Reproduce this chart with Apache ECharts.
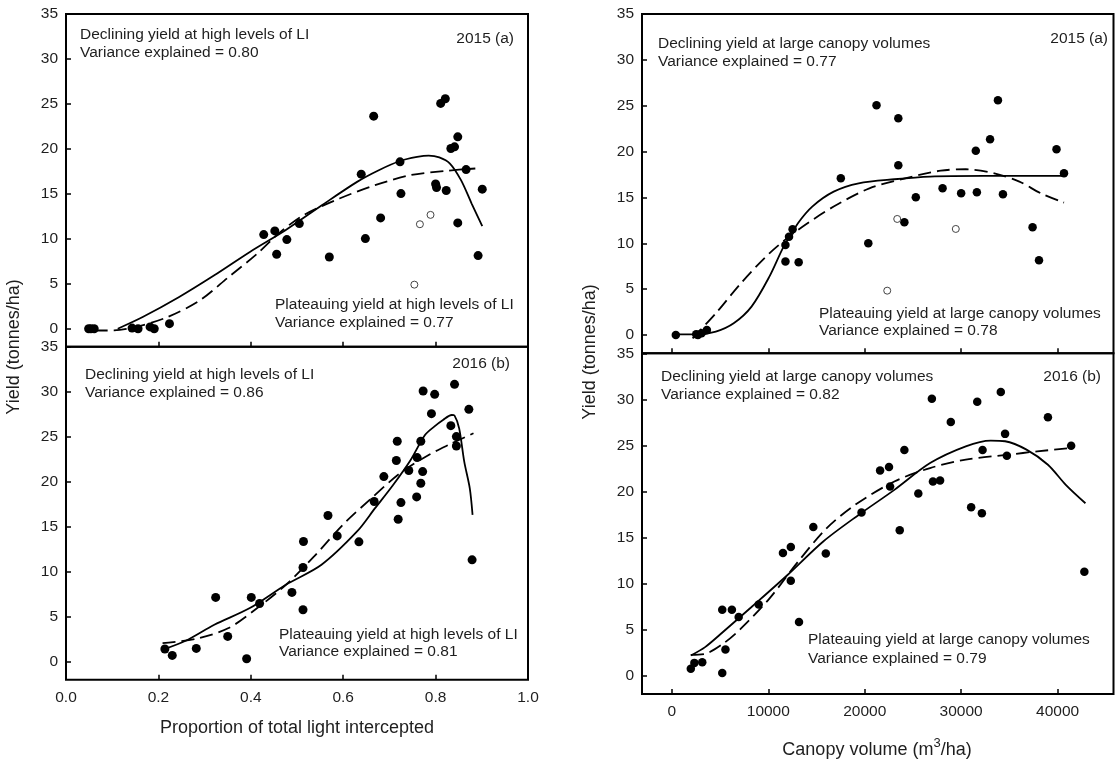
<!DOCTYPE html>
<html><head><meta charset="utf-8">
<script src="https://cdn.jsdelivr.net/npm/echarts@6/dist/echarts.min.js"></script>
<style>html,body{margin:0;padding:0;background:#fff}#c{width:1115px;height:762px}</style>
</head><body><div id="c"></div>
<script>
// ---------- DATA ----------
// Left column: proportion of total light intercepted (x) vs yield (t/ha)
const liTicks = [0, 0.2, 0.4, 0.6, 0.8, 1.0];
const yieldTicks = [0, 5, 10, 15, 20, 25, 30, 35];
const cvTicks = [0, 10000, 20000, 30000, 40000];

// 2015 (a), light interception
const li2015Filled = [[0.049,0],[0.054,0],[0.061,0],[0.143,0.07],[0.156,0],[0.182,0.2],[0.191,0],[0.224,0.56],
  [0.428,10.47],[0.452,10.88],[0.456,8.28],[0.478,9.91],[0.505,11.69],[0.570,7.98],[0.639,17.19],[0.648,10.02],
  [0.666,23.64],[0.681,12.32],[0.723,18.56],[0.725,15.03],[0.800,16.1],[0.802,15.7],[0.811,25.06],[0.821,25.58],
  [0.823,15.37],[0.833,20.04],[0.841,20.23],[0.848,21.34],[0.848,11.77],[0.866,17.7],[0.892,8.13],[0.901,15.52]];
const li2015Open = [[0.754,4.9],[0.766,11.62],[0.789,12.66]];
const li2015Declining = [[0.112,0],[0.166,1.3],[0.244,3.5],[0.321,5.94],[0.398,8.54],[0.475,10.95],[0.553,13.7],
  [0.630,16.33],[0.677,17.63],[0.723,18.65],[0.760,19.1],[0.785,19.25],[0.808,19.05],[0.831,18.37],[0.855,16.52],[0.878,13.92],[0.901,11.4]];
const li2015Plateau = [[0.062,-0.2],[0.104,-0.19],[0.151,0.19],[0.220,1.3],[0.290,3.16],[0.352,5.75],[0.414,8.35],
  [0.460,10.58],[0.514,12.62],[0.592,14.48],[0.669,15.96],[0.746,17.08],[0.824,17.56],[0.886,17.82]];

// 2016 (b), light interception
const li2016Filled = [[0.214,1.41],[0.230,0.70],[0.282,1.48],[0.324,7.14],[0.350,2.81],[0.391,0.33],[0.401,7.14],
  [0.419,6.47],[0.489,7.70],[0.513,5.77],[0.513,10.47],[0.514,13.36],[0.567,16.24],[0.587,13.98],[0.634,13.32],
  [0.667,17.80],[0.688,20.57],[0.715,22.35],[0.717,24.49],[0.719,15.83],[0.725,17.68],[0.742,21.24],[0.759,18.31],
  [0.760,22.68],[0.768,19.83],[0.772,21.12],[0.768,24.49],[0.773,30.08],[0.791,27.56],[0.798,29.71],[0.833,26.23],
  [0.841,30.82],[0.845,25.01],[0.845,23.97],[0.872,28.04],[0.879,11.32]];
const li2016Declining = [[0.209,1.33],[0.259,2.33],[0.321,4.11],[0.398,5.96],[0.476,8.55],[0.553,10.77],[0.630,14.47],
  [0.669,17.06],[0.708,19.64],[0.746,22.42],[0.777,25.19],[0.797,26.12],[0.816,26.86],[0.835,27.41],[0.841,27.34],
  [0.851,25.93],[0.862,22.23],[0.874,19.27],[0.880,16.32]];
const li2016Plateau = [[0.209,2.07],[0.282,2.55],[0.352,3.74],[0.414,5.96],[0.476,8.55],[0.537,11.69],[0.599,15.2],
  [0.661,18.16],[0.723,20.94],[0.785,22.97],[0.831,24.16],[0.882,25.38]];

// 2015 (a), canopy volume
const cv2015Filled = [[407,0],[2519,0.07],[2704,0],[3074,0.18],[3630,0.55],[11778,8.0],[11778,9.81],[12148,10.72],
  [12519,11.52],[13148,7.92],[17519,17.08],[20370,10.0],[21222,25.05],[23481,23.63],[23481,18.50],[24111,12.29],
  [25296,15.01],[28074,15.99],[30000,15.45],[31519,20.10],[31630,15.56],[33000,21.34],[33815,25.59],[34333,15.34],
  [37407,11.74],[38074,8.14],[39889,20.25],[40667,17.63]];
const cv2015Open = [[22333,4.83],[23370,12.65],[29444,11.56]];
const cv2015Plateau = [[407,0.07],[2704,0.07],[4556,0.36],[6407,1.27],[8259,3.09],[10111,6.36],[11593,9.63],
  [13074,12.18],[14556,14.0],[16778,15.63],[19370,16.54],[23074,16.98],[26778,17.27],[32333,17.34],[40667,17.34]];
const cv2015Declining = [[2148,-0.36],[4556,2.36],[7148,5.63],[10111,8.9],[13074,11.45],[16778,14.0],[20481,15.99],
  [24185,17.08],[27889,17.92],[30481,18.07],[33444,17.63],[36037,16.72],[38259,15.45],[40667,14.43]];

// 2016 (b), canopy volume
const cv2016Filled = [[1963,0.73],[2333,1.38],[3148,1.45],[5222,7.16],[5222,0.29],[5556,2.84],[6222,7.16],[6926,6.36],
  [9000,7.71],[11519,13.30],[12333,13.96],[12333,10.29],[13185,5.82],[14667,16.14],[15963,13.27],[19667,17.70],
  [21593,22.28],[22519,22.65],[22630,20.54],[23630,15.78],[24111,24.50],[25556,19.77],[26963,30.06],[27074,21.08],
  [27815,21.19],[28926,27.55],[31037,18.28],[31667,29.73],[32148,17.63],[32222,24.50],[34111,30.79],[34556,26.25],
  [34741,23.88],[39000,28.06],[41407,24.97],[42778,11.27]];
const cv2016Declining = [[1963,2.18],[3444,3.09],[5296,4.73],[8259,7.45],[11963,10.9],[15667,14.54],[19370,17.45],
  [23074,20.17],[26778,23.08],[30481,24.9],[33074,25.52],[34556,25.45],[36778,24.54],[39000,22.9],[40852,20.72],[42889,18.72]];
const cv2016Plateau = [[1963,2.25],[3444,2.36],[5296,3.45],[7148,5.09],[10111,8.36],[13074,12.36],[16037,15.99],
  [19000,18.54],[23074,21.08],[26778,22.54],[30481,23.45],[34926,23.99],[37889,24.35],[41407,24.72]];

// ---------- CHART ----------
const FONT = '"Liberation Sans", Arial, sans-serif';
const TXT = '#1e1e1e';
const grids = [
  {left: 66, top: 14, width: 462, height: 332.7},
  {left: 66, top: 346.7, width: 462, height: 333},
  {left: 642, top: 14, width: 471.5, height: 339.3},
  {left: 642, top: 353.3, width: 471.5, height: 340.7}
].map(g => Object.assign({show: true, borderColor: '#000', borderWidth: 2, backgroundColor: 'transparent', containLabel: false}, g));

function xAx(gi, min, max, ticks, showLabel, fmt) {
  return {
    type: 'value', gridIndex: gi, min: min, max: max, position: 'bottom',
    splitLine: {show: false}, axisLine: {show: false, onZero: false},
    axisTick: {show: true, inside: true, length: 5, customValues: ticks, lineStyle: {color: '#000', width: 1.5}},
    axisLabel: {show: showLabel, customValues: ticks, margin: 10, color: TXT, fontSize: 15.5, fontFamily: FONT,
      formatter: fmt}
  };
}
function yAx(gi) {
  return {
    type: 'value', gridIndex: gi, min: -2, max: 35, position: 'left',
    splitLine: {show: false}, axisLine: {show: false, onZero: false},
    axisTick: {show: true, inside: true, length: 5, customValues: yieldTicks, lineStyle: {color: '#000', width: 1.5}},
    axisLabel: {show: true, customValues: yieldTicks, margin: 8, color: TXT, fontSize: 15.5, fontFamily: FONT}
  };
}
const liFmt = v => v.toFixed(1);
const cvFmt = v => String(Math.round(v));

function filled(i, data, size) {
  return {type: 'scatter', xAxisIndex: i, yAxisIndex: i, data: data, symbol: 'circle', symbolSize: size,
    itemStyle: {color: '#000', opacity: 1}, z: 5, silent: true};
}
function open(i, data) {
  return {type: 'scatter', xAxisIndex: i, yAxisIndex: i, data: data, symbol: 'circle', symbolSize: 7,
    itemStyle: {color: '#fff', borderColor: '#444', borderWidth: 1, opacity: 1}, z: 5, silent: true};
}
function line(i, data, dashed) {
  return {type: 'line', xAxisIndex: i, yAxisIndex: i, data: data, showSymbol: false, smooth: 0.3,
    lineStyle: {color: '#000', width: 1.8, type: dashed ? [13, 6] : 'solid'}, z: 3, silent: true};
}

function txt(x, y, s, align, size) {
  return {type: 'text', x: x, y: y, silent: true,
    style: {text: s, fill: TXT, font: (size || 15.5) + 'px ' + FONT, textAlign: align || 'left',
      textVerticalAlign: 'middle', verticalAlign: 'middle'}};
}

const option = {
  animation: false,
  backgroundColor: '#fff',
  grid: grids,
  xAxis: [
    xAx(0, 0, 1, liTicks, false, liFmt),
    xAx(1, 0, 1, liTicks, true, liFmt),
    xAx(2, -3100, 45800, cvTicks, false, cvFmt),
    xAx(3, -3100, 45800, cvTicks, true, cvFmt)
  ],
  yAxis: [yAx(0), yAx(1), yAx(2), yAx(3)],
  series: [
    line(0, li2015Declining, false), line(0, li2015Plateau, true),
    filled(0, li2015Filled, 9), open(0, li2015Open),
    line(1, li2016Declining, false), line(1, li2016Plateau, true),
    filled(1, li2016Filled, 9),
    line(2, cv2015Plateau, false), line(2, cv2015Declining, true),
    filled(2, cv2015Filled, 8.5), open(2, cv2015Open),
    line(3, cv2016Declining, false), line(3, cv2016Plateau, true),
    filled(3, cv2016Filled, 8.5)
  ],
  graphic: [
    txt(80, 35, 'Declining yield at high levels of LI'),
    txt(80, 52.5, 'Variance explained = 0.80'),
    txt(514, 39, '2015 (a)', 'right'),
    txt(275, 305, 'Plateauing yield at high levels of LI'),
    txt(275, 322.5, 'Variance explained = 0.77'),

    txt(85, 374.5, 'Declining yield at high levels of LI'),
    txt(85, 392.5, 'Variance explained = 0.86'),
    txt(510, 364, '2016 (b)', 'right'),
    txt(279, 634.5, 'Plateauing yield at high levels of LI'),
    txt(279, 652, 'Variance explained = 0.81'),

    txt(658, 43.5, 'Declining yield at large canopy volumes'),
    txt(658, 61.5, 'Variance explained = 0.77'),
    txt(1108, 38.5, '2015 (a)', 'right'),
    txt(819, 313.5, 'Plateauing yield at large canopy volumes'),
    txt(819, 331, 'Variance explained = 0.78'),

    txt(661, 377, 'Declining yield at large canopy volumes'),
    txt(661, 395, 'Variance explained = 0.82'),
    txt(1101, 377, '2016 (b)', 'right'),
    txt(808, 640, 'Plateauing yield at large canopy volumes'),
    txt(808, 658.5, 'Variance explained = 0.79'),

    {type: 'text', x: 14, y: 347, rotation: Math.PI / 2, silent: true,
      style: {text: 'Yield (tonnes/ha)', fill: TXT, font: '18px ' + FONT, textAlign: 'center',
        textVerticalAlign: 'middle', verticalAlign: 'middle'}},
    {type: 'text', x: 590, y: 352, rotation: Math.PI / 2, silent: true,
      style: {text: 'Yield (tonnes/ha)', fill: TXT, font: '18px ' + FONT, textAlign: 'center',
        textVerticalAlign: 'middle', verticalAlign: 'middle'}},
    {type: 'text', x: 297, y: 728, silent: true,
      style: {text: 'Proportion of total light intercepted', fill: TXT, font: '18px ' + FONT, textAlign: 'center',
        textVerticalAlign: 'middle', verticalAlign: 'middle'}},
    {type: 'text', x: 877, y: 748, silent: true,
      style: {text: '{a|Canopy volume (m}{s|3}{a|/ha)}', fill: TXT, textAlign: 'center',
        textVerticalAlign: 'middle', verticalAlign: 'middle',
        rich: {a: {fontSize: 18, fontFamily: FONT, fill: TXT, color: TXT, verticalAlign: 'bottom', lineHeight: 22},
               s: {fontSize: 13, fontFamily: FONT, fill: TXT, color: TXT, verticalAlign: 'top', lineHeight: 22}}}}
  ]
};
const chart = echarts.init(document.getElementById('c'), null, {renderer: 'canvas'});
chart.setOption(option);
</script></body></html>
